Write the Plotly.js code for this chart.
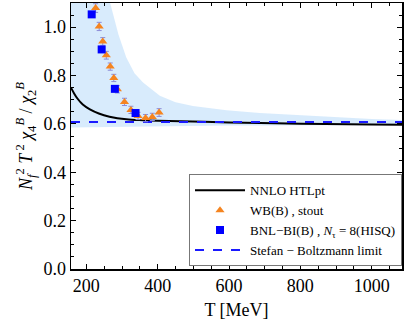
<!DOCTYPE html>
<html>
<head>
<meta charset="utf-8">
<script src="https://cdn.plot.ly/plotly-3.0.1.min.js"></script>
<style>
  html, body { margin: 0; padding: 0; background: #fff; }
  #grafico { width: 409px; height: 329px; }
</style>
</head>
<body>
<div id="grafico"></div>
<script>
// WB(B), stout (triangulos laranja)
var wbT   = [226, 236, 246, 256, 267, 277, 287, 307, 325, 345, 366, 385, 404];
var wbVal = [1.079, 1.003, 0.941, 0.884, 0.837, 0.790, 0.743, 0.691, 0.658, 0.633, 0.624, 0.629, 0.647];
var wbErr = [0.018, 0.017, 0.016, 0.016, 0.015, 0.015, 0.015, 0.015, 0.015, 0.015, 0.015, 0.015, 0.016];

// BNL-BI(B), N_tau = 8 (quadrados azuis)
var bnlT   = [215, 243, 280, 338];
var bnlVal = [1.053, 0.908, 0.745, 0.645];

// NNLO HTLpt (curva preta)
var htlT   = [157, 165, 175, 190, 210, 235, 265, 312, 359, 400, 499, 600, 800, 1000, 1085];
var htlVal = [0.750, 0.728, 0.705, 0.680, 0.660, 0.643, 0.630, 0.619, 0.615, 0.613, 0.610, 0.606, 0.601, 0.598, 0.597];

// faixa de incerteza
var bandT     = [157, 200, 240, 265, 290, 312, 335, 359, 406, 450, 499, 593, 686, 800, 900, 1000, 1085];
var bandUpper = [2.0, 1.6, 1.3, 1.11, 0.97, 0.875, 0.81, 0.771, 0.716, 0.69, 0.674, 0.656, 0.645, 0.635, 0.626, 0.620, 0.616];
var bandLower = [0.585, 0.586, 0.587, 0.587, 0.588, 0.588, 0.589, 0.589, 0.590, 0.591, 0.592, 0.593, 0.593, 0.594, 0.594, 0.595, 0.595];

// limite de Stefan-Boltzmann
var sbT   = [157, 1085];
var sbVal = [0.6079, 0.6079];

var fonte = "Liberation Serif";

var data = [
    {x: bandT, y: bandLower, mode: "lines", line: {width: 0}, showlegend: false, hoverinfo: "skip"},
    {x: bandT, y: bandUpper, mode: "lines", line: {width: 0}, fill: "tonexty",
     fillcolor: "rgba(214,234,252,0.95)", showlegend: false, hoverinfo: "skip"},
    {x: htlT, y: htlVal, name: "NNLO HTLpt", mode: "lines", legendrank: 1,
     line: {color: "black", width: 2, shape: "spline"}},
    {x: sbT, y: sbVal, name: "Stefan − Boltzmann limit", mode: "lines", legendrank: 4,
     line: {color: "#1a1aff", width: 2, dash: "dash"}},
    {x: wbT, y: wbVal, name: "WB(B) , stout", mode: "markers", legendrank: 2,
     marker: {symbol: "triangle-up", color: "#f5841f", size: 8},
     error_y: {type: "data", array: wbErr, color: "#8c8cd8", thickness: 1, width: 2.5}},
    {x: bnlT, y: bnlVal, name: "BNL−BI(B) , <i>N</i><sub>τ</sub> = 8(HISQ)", mode: "markers", legendrank: 3,
     marker: {symbol: "square", color: "#0000ff", size: 8}}
];

var layout = {
    width: 409, height: 329,
    margin: {l: 71, r: 7, t: 3, b: 60},
    paper_bgcolor: "white", plot_bgcolor: "white",
    font: {family: fonte, color: "black", size: 18},
    showlegend: true,
    legend: {
        traceorder: "normal",
        x: 1, xanchor: "right", y: 0.01, yanchor: "bottom",
        bgcolor: "white", bordercolor: "#777", borderwidth: 1,
        itemwidth: 50,
        font: {family: fonte, size: 13}
    },
    xaxis: {
        range: [157, 1085],
        title: {text: "T [MeV]", font: {family: fonte, size: 18}, standoff: 8},
        tickvals: [200, 400, 600, 800, 1000],
        tickfont: {family: fonte, size: 18},
        ticks: "inside", ticklen: 5, tickcolor: "black",
        minor: {dtick: 50, tick0: 0, ticks: "inside", ticklen: 3, tickcolor: "black"},
        showline: true, linecolor: "black", linewidth: 1.5, mirror: "allticks",
        showgrid: false, zeroline: false
    },
    yaxis: {
        range: [0, 1.1],
        title: {text: "<i>N</i><sub><i>f</i></sub><sup>2</sup> <i>T</i><sup> 2</sup> <i>χ</i><sub>4</sub><sup><i>B</i></sup> / <i>χ</i><sub>2</sub><sup><i>B</i></sup>",
                font: {family: fonte, size: 18}, standoff: 6},
        tickvals: [0, 0.2, 0.4, 0.6, 0.8, 1.0],
        tickformat: ".1f",
        tickfont: {family: fonte, size: 18},
        ticks: "inside", ticklen: 5, tickcolor: "black",
        minor: {dtick: 0.05, tick0: 0, ticks: "inside", ticklen: 3, tickcolor: "black"},
        showline: true, linecolor: "black", linewidth: 1.5, mirror: "allticks",
        showgrid: false, zeroline: false
    }
};

Plotly.newPlot("grafico", data, layout, {displayModeBar: false, staticPlot: true});
</script>
</body>
</html>
